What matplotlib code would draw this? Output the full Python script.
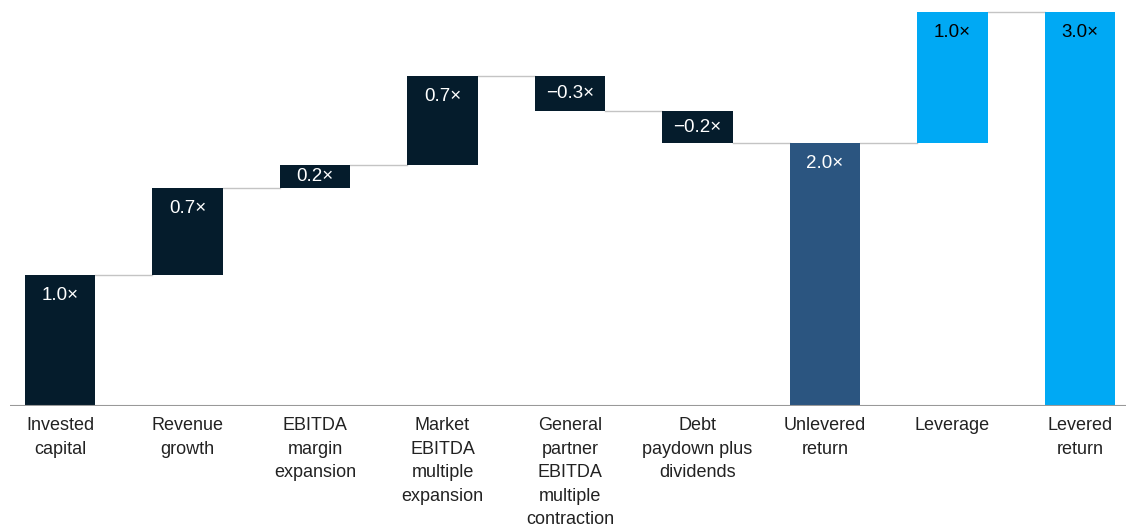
import matplotlib.pyplot as plt
import numpy as np

plt.rcParams['font.family'] = ['Liberation Sans', 'DejaVu Sans']

categories = ['Invested\ncapital', 'Revenue\ngrowth', 'EBITDA\nmargin\nexpansion',
              'Market\nEBITDA\nmultiple\nexpansion', 'General\npartner\nEBITDA\nmultiple\ncontraction',
              'Debt\npaydown plus\ndividends', 'Unlevered\nreturn', 'Leverage', 'Levered\nreturn']
steps = [1.0, 0.66, 0.17, 0.68, -0.27, -0.24]   # first six bars (waterfall)
unlevered = 2.0
leverage = 1.0
levered = 3.0
labels = ['1.0×', '0.7×', '0.2×', '0.7×', '−0.3×', '−0.2×', '2.0×', '1.0×', '3.0×']

navy = '#051c2c'
mid = '#2b5580'
light = '#00a9f4'

bottoms, heights = [], []
cum = 0
for s in steps:
    if s >= 0:
        bottoms.append(cum); heights.append(s)
    else:
        bottoms.append(cum + s); heights.append(-s)
    cum += s
bottoms += [0, unlevered, 0]
heights += [unlevered, leverage, levered]
colors = [navy] * 6 + [mid, light, light]
txtcol = ['white'] * 7 + ['black', 'black']
tops = [b + h for b, h in zip(bottoms, heights)]
levels = list(np.cumsum(steps)) + [unlevered, unlevered + leverage, levered]

fig = plt.figure(figsize=(11.26, 5.29), dpi=100)
ax = fig.add_axes([10 / 1126, 123 / 529, 1116 / 1126, 406 / 529])
x = np.arange(len(categories))
w = 0.55
ax.bar(x, heights, bottom=bottoms, width=w, color=colors, zorder=2)

# connector lines
for i in range(len(x) - 1):
    ax.plot([x[i] + w / 2, x[i + 1] - w / 2], [levels[i], levels[i]],
            color='#c4c4c4', lw=1, zorder=1)

for i in range(len(x)):
    hpx = heights[i] * 131.5
    if hpx < 45:
        ax.text(x[i], bottoms[i] + heights[i] / 2, labels[i], ha='center', va='center',
                color=txtcol[i], fontsize=13.5)
    else:
        ax.annotate(labels[i], (x[i], tops[i]), xytext=(0, -15), textcoords='offset points',
                    ha='center', va='center', color=txtcol[i], fontsize=13.5)
    ax.annotate(categories[i], (x[i], 0), xytext=(0, -8), textcoords='offset points',
                ha='center', va='top', color='#222222', fontsize=13, linespacing=1.5)

ax.axhline(0, color='#999999', lw=1.5, zorder=3)
ax.set_xlim(-50 / 127.5, 1066 / 127.5)
ax.set_ylim(0, 406 / 131.5)
ax.axis('off')

fig.savefig('out.png', dpi=100)
